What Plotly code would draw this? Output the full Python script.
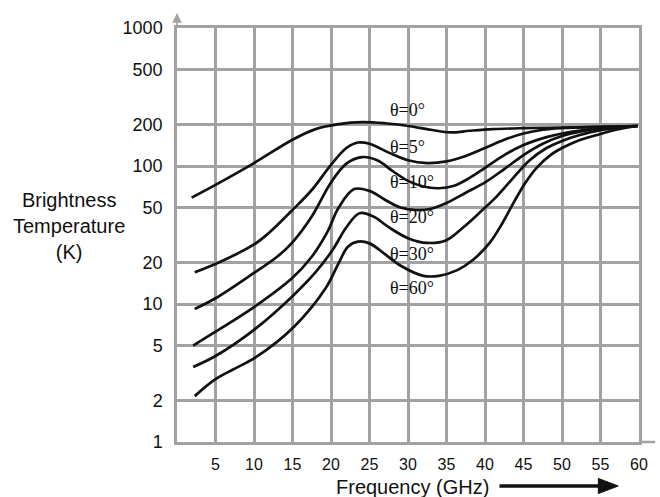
import math
import plotly.graph_objects as go

# ---- data (GHz, K) ----
x_t0 = [1.9, 5, 10, 15, 18, 21, 24, 27, 30, 33, 35.5, 38, 41, 45, 50, 55, 59.8]
y_t0 = [59, 73, 105, 155, 185, 201, 208, 204, 195, 183, 175, 180, 185, 188, 190, 192, 195]

x_t5 = [2.3, 5, 10, 12, 15, 17.5, 20, 22, 23.5, 25, 27.5, 30, 32.5, 35, 37.5, 40, 42.5, 45, 47.5, 50, 55, 59.8]
y_t5 = [17, 19.5, 27, 33, 48, 67, 102, 135, 148, 145, 125, 110, 105, 108, 118, 135, 155, 172, 183, 188, 192, 195]

x_t10 = [2.3, 5, 10, 13, 15, 17.5, 20, 22, 24, 26, 28, 30, 32, 34, 36, 38, 40, 42.5, 45, 48, 50, 55, 59.8]
y_t10 = [9.2, 11, 16.8, 22, 28, 43, 76, 104, 116, 110, 92, 78, 71, 69, 72, 82, 97, 120, 142, 162, 172, 188, 195]

x_t20 = [2.1, 5, 10, 15, 17.5, 19.5, 21, 23, 25, 27, 29, 31, 33, 35, 37.5, 40, 42.5, 45, 47.5, 50, 52.5, 55, 59.8]
y_t20 = [5.0, 6.3, 9.5, 15.5, 22, 33, 50, 68, 66, 57, 50, 48, 49, 54, 64, 76, 95, 120, 145, 165, 178, 187, 195]

x_t30 = [2.1, 5, 10, 15, 18, 20.2, 22, 23.7, 25.5, 27.5, 30, 32.5, 35, 37.2, 39.5, 41.5, 43.5, 45.8, 48, 50, 52.2, 55, 59.8]
y_t30 = [3.5, 4.2, 6.5, 11.4, 17, 24.6, 36, 45.5, 43, 36, 30, 27.7, 29, 36, 47, 60, 80, 110, 135, 152, 167, 182, 195]

x_t60 = [2.3, 5, 7.5, 10.2, 15.2, 19.3, 21, 22.2, 23.5, 25, 27, 29, 32, 34, 36.4, 38.5, 40.6, 42.2, 43.7, 45.2, 46.7, 48.5, 50, 52, 54.4, 57, 59.8]
y_t60 = [2.15, 2.85, 3.4, 4.1, 6.85, 13, 19.8, 26, 28.3, 27.5, 23, 19, 16, 16, 17.6, 21, 27.7, 38, 54, 75, 97, 120, 135, 152, 167, 183, 195]

curve_names = ["θ=0°", "θ=5°", "θ=10°", "θ=20°", "θ=30°", "θ=60°"]
label_temps = [255, 137, 76.6, 42.7, 23, 13.1]   # K, where each label sits
label_freq = 27.4                                 # GHz, left edge of labels

x_ticks = [5, 10, 15, 20, 25, 30, 35, 40, 45, 50, 55, 60]
y_ticks = [1, 2, 5, 10, 20, 50, 100, 200, 500, 1000]

series = [(x_t0, y_t0), (x_t5, y_t5), (x_t10, y_t10),
          (x_t20, y_t20), (x_t30, y_t30), (x_t60, y_t60)]

GRID = "#a2a2a2"
fig = go.Figure()
for (xs, ys), name in zip(series, curve_names):
    fig.add_trace(go.Scatter(x=xs, y=ys, mode="lines", name=name,
                             line=dict(color="#111111", width=2.7, shape="spline", smoothing=1.0),
                             hoverinfo="skip"))

annotations = []
for name, t in zip(curve_names, label_temps):
    annotations.append(dict(x=label_freq, y=math.log10(t), xref="x", yref="y",
                            text=name, showarrow=False, xanchor="left", yanchor="middle",
                            font=dict(family="Liberation Serif, Times New Roman, serif", size=18, color="#111")))

# axis titles
annotations.append(dict(x=-0.2334, y=0.522, xref="paper", yref="paper",
                        text="Brightness<br>Temperature<br>(K)", showarrow=False,
                        xanchor="center", yanchor="middle", align="center",
                        font=dict(family="Liberation Sans, Arial, sans-serif", size=20, color="#111")))
annotations.append(dict(x=0.5096, y=-0.1087, xref="paper", yref="paper",
                        text="Frequency (GHz)", showarrow=False,
                        xanchor="center", yanchor="middle",
                        font=dict(family="Liberation Sans, Arial, sans-serif", size=20, color="#111")))
# y-axis arrow (grey) at top
annotations.append(dict(x=0, y=1.036, xref="paper", yref="paper", text="",
                        showarrow=True, ax=0, ay=16, axref="pixel", ayref="pixel",
                        arrowhead=2, arrowsize=1.2, arrowwidth=1.6, arrowcolor=GRID))

shapes = [
    # x-axis extension to the right
    dict(type="line", xref="paper", yref="paper", x0=1.0, x1=1.035, y0=0, y1=0,
         line=dict(color=GRID, width=2.5)),
    # big black arrow next to x title
    dict(type="line", xref="paper", yref="paper", x0=0.698, x1=0.92, y0=-0.1063, y1=-0.1063,
         line=dict(color="#111", width=3.5)),
    dict(type="path", xref="paper", yref="paper",
         path="M 0.912 -0.088 L 0.955 -0.1063 L 0.912 -0.1246 Z",
         fillcolor="#111", line=dict(color="#111", width=1)),
]

axis_font = dict(family="Liberation Sans, Arial, sans-serif", color="#111")
fig.update_layout(
    width=660, height=497,
    margin=dict(l=177, r=16, t=28, b=55),
    paper_bgcolor="white", plot_bgcolor="white",
    showlegend=False,
    annotations=annotations,
    shapes=shapes,
    xaxis=dict(range=[0, 60], tickvals=x_ticks, ticktext=[str(v) for v in x_ticks],
               showgrid=True, gridcolor=GRID, gridwidth=2.5,
               showline=True, linecolor=GRID, linewidth=2.5, mirror=True,
               ticks="outside", ticklen=6, tickcolor="rgba(0,0,0,0)",
               tickfont=dict(size=16, **axis_font), zeroline=False),
    yaxis=dict(type="log", range=[0, 3], tickvals=y_ticks, ticktext=[str(v) for v in y_ticks],
               showgrid=True, gridcolor=GRID, gridwidth=2.5,
               showline=True, linecolor=GRID, linewidth=2.5, mirror=True,
               ticks="outside", ticklen=8, tickcolor="rgba(0,0,0,0)",
               tickfont=dict(size=18, **axis_font), zeroline=False),
)

fig.write_html("out.html")
